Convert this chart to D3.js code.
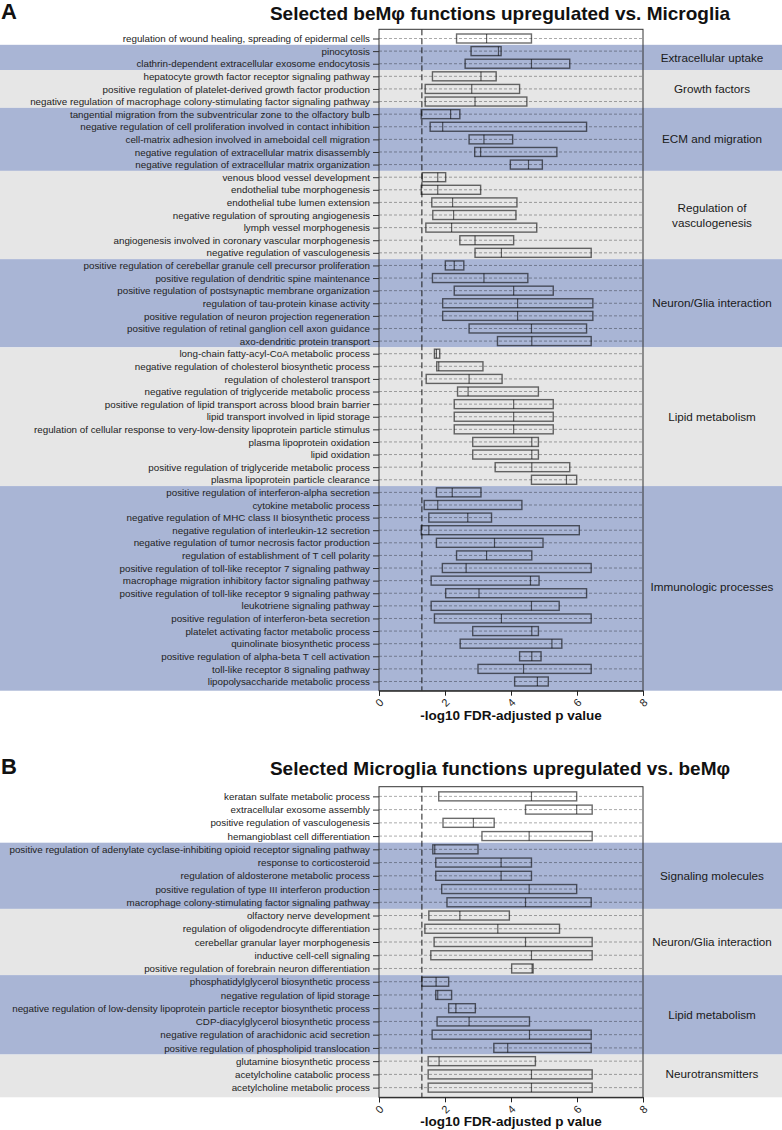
<!DOCTYPE html>
<html><head><meta charset="utf-8">
<script src="https://cdn.jsdelivr.net/npm/d3@7/dist/d3.min.js"></script>
<style>body{margin:0;background:#fff}svg{display:block}</style>
</head><body>
<svg id="c" width="782" height="1130"></svg>
<script>
// ---------- Panel A data ----------
const aTerms = [
"regulation of wound healing, spreading of epidermal cells",
"pinocytosis",
"clathrin-dependent extracellular exosome endocytosis",
"hepatocyte growth factor receptor signaling pathway",
"positive regulation of platelet-derived growth factor production",
"negative regulation of macrophage colony-stimulating factor signaling pathway",
"tangential migration from the subventricular zone to the olfactory bulb",
"negative regulation of cell proliferation involved in contact inhibition",
"cell-matrix adhesion involved in ameboidal cell migration",
"negative regulation of extracellular matrix disassembly",
"negative regulation of extracellular matrix organization",
"venous blood vessel development",
"endothelial tube morphogenesis",
"endothelial tube lumen extension",
"negative regulation of sprouting angiogenesis",
"lymph vessel morphogenesis",
"angiogenesis involved in coronary vascular morphogenesis",
"negative regulation of vasculogenesis",
"positive regulation of cerebellar granule cell precursor proliferation",
"positive regulation of dendritic spine maintenance",
"positive regulation of postsynaptic membrane organization",
"regulation of tau-protein kinase activity",
"positive regulation of neuron projection regeneration",
"positive regulation of retinal ganglion cell axon guidance",
"axo-dendritic protein transport",
"long-chain fatty-acyl-CoA metabolic process",
"negative regulation of cholesterol biosynthetic process",
"regulation of cholesterol transport",
"negative regulation of triglyceride metabolic process",
"positive regulation of lipid transport across blood brain barrier",
"lipid transport involved in lipid storage",
"regulation of cellular response to very-low-density lipoprotein particle stimulus",
"plasma lipoprotein oxidation",
"lipid oxidation",
"positive regulation of triglyceride metabolic process",
"plasma lipoprotein particle clearance",
"positive regulation of interferon-alpha secretion",
"cytokine metabolic process",
"negative regulation of MHC class II biosynthetic process",
"negative regulation of interleukin-12 secretion",
"negative regulation of tumor necrosis factor production",
"regulation of establishment of T cell polarity",
"positive regulation of toll-like receptor 7 signaling pathway",
"macrophage migration inhibitory factor signaling pathway",
"positive regulation of toll-like receptor 9 signaling pathway",
"leukotriene signaling pathway",
"positive regulation of interferon-beta secretion",
"platelet activating factor metabolic process",
"quinolinate biosynthetic process",
"positive regulation of alpha-beta T cell activation",
"toll-like receptor 8 signaling pathway",
"lipopolysaccharide metabolic process"
];
const aLow  = [2.35,2.79,2.61,1.62,1.40,1.40,1.28,1.55,2.73,2.90,3.98,1.31,1.28,1.60,1.63,1.42,2.45,2.91,2.01,1.62,2.28,1.93,1.93,2.73,3.59,1.68,1.75,1.43,2.38,2.28,2.28,2.28,2.84,2.84,3.52,4.62,1.74,1.37,1.51,1.28,1.74,2.35,1.92,1.58,2.02,1.58,1.68,2.84,2.46,4.26,3.00,4.11];
const aMed  = [3.26,3.62,4.62,3.09,2.81,2.91,2.17,1.93,3.18,3.08,4.53,1.78,1.78,2.23,2.26,2.20,2.91,3.71,2.28,3.18,4.08,4.20,4.20,4.62,4.63,1.74,1.81,2.73,2.70,4.08,4.08,4.08,4.63,4.63,4.63,5.68,2.22,1.78,2.69,1.51,3.50,3.26,2.64,4.59,3.03,4.62,3.71,4.63,5.24,4.63,4.38,4.80];
const aHigh = [4.62,3.70,5.78,3.55,4.26,4.48,2.45,6.29,4.05,5.39,4.95,2.02,3.08,4.18,4.15,4.78,4.08,6.43,2.57,4.51,5.28,6.48,6.48,6.29,6.43,1.84,3.15,3.73,4.83,5.28,5.28,5.28,4.83,4.83,5.78,5.99,3.09,4.33,3.41,6.07,4.97,4.63,6.43,4.85,6.29,5.46,6.43,4.83,5.54,4.91,6.43,5.13];
const aGroupNames = ["", "Extracellular uptake", "Growth factors", "ECM and migration", "Regulation of\nvasculogenesis", "Neuron/Glia interaction", "Lipid metabolism", "Immunologic processes"];
const aGroupSizes = [1, 2, 3, 5, 7, 7, 11, 16];

// ---------- Panel B data ----------
const bTerms = [
"keratan sulfate metabolic process",
"extracellular exosome assembly",
"positive regulation of vasculogenesis",
"hemangioblast cell differentiation",
"positive regulation of adenylate cyclase-inhibiting opioid receptor signaling pathway",
"response to corticosteroid",
"regulation of aldosterone metabolic process",
"positive regulation of type III interferon production",
"macrophage colony-stimulating factor signaling pathway",
"olfactory nerve development",
"regulation of oligodendrocyte differentiation",
"cerebellar granular layer morphogenesis",
"inductive cell-cell signaling",
"positive regulation of forebrain neuron differentiation",
"phosphatidylglycerol biosynthetic process",
"negative regulation of lipid storage",
"negative regulation of low-density lipoprotein particle receptor biosynthetic process",
"CDP-diacylglycerol biosynthetic process",
"negative regulation of arachidonic acid secretion",
"positive regulation of phospholipid translocation",
"glutamine biosynthetic process",
"acetylcholine catabolic process",
"acetylcholine metabolic process"
];
const bLow  = [1.81,4.44,1.94,3.12,1.63,1.72,1.72,1.90,2.06,1.51,1.39,1.67,1.57,4.02,1.30,1.72,2.11,1.76,1.61,3.48,1.49,1.49,1.49];
const bMed  = [4.62,5.99,2.86,4.55,1.69,3.70,3.70,4.55,4.44,2.45,3.60,4.44,4.62,4.64,1.73,1.78,2.33,2.73,4.56,3.90,1.82,4.62,4.62];
const bHigh = [5.99,6.46,3.49,6.46,3.00,4.62,4.62,5.99,6.43,3.95,5.47,6.46,6.46,4.67,2.11,2.20,2.92,4.56,6.43,6.43,4.74,6.46,6.46];
const bGroupNames = ["", "Signaling molecules", "Neuron/Glia interaction", "Lipid metabolism", "Neurotransmitters"];
const bGroupSizes = [4, 5, 5, 6, 3];

const xTicks = [0, 2, 4, 6, 8];
const threshold = 1.3;

// ---------- drawing ----------
const W = 782;
const svg = d3.select("#c");
const FONT = "'Liberation Sans', Arial, Helvetica, sans-serif";
const BLUE = "#a9b5d5", GRAY = "#e6e6e6";
const X0 = 379, X1 = 643, LABX = 712;

function panel(o) {
  const n = o.terms.length;
  const g = svg.append("g");
  const x = d3.scaleLinear().domain([0, 8]).range([X0, X1]);
  const y = d3.scalePoint().domain(d3.range(n)).range([o.top, o.bottom]).padding(0.73);
  const step = y.step();

  // group bands
  let start = 0, k = 0;
  o.groupNames.forEach((name, gi) => {
    const size = o.groupSizes[gi];
    const end = start + size - 1;
    if (name !== "") {
      const y0 = start === 0 ? o.top : y(start) - step / 2;
      const y1 = end === n - 1 ? o.bottom : y(end) + step / 2;
      g.append("rect").attr("x", 0).attr("width", W).attr("y", y0).attr("height", y1 - y0)
        .attr("fill", k % 2 === 0 ? BLUE : GRAY);
      const lines = name.split("\n");
      const cy = (y(start) + y(end)) / 2;
      const lh = 15;
      lines.forEach((ln, li) => {
        g.append("text").attr("x", LABX).attr("y", cy + (li - (lines.length - 1) / 2) * lh)
          .attr("dy", "0.35em").attr("text-anchor", "middle")
          .attr("font-family", FONT).attr("font-size", 11.7).attr("fill", "#1a1a1a").text(ln);
      });
      k++;
    }
    start = end + 1;
  });

  // grid lines
  g.append("g").selectAll("line").data(d3.range(n)).join("line")
    .attr("x1", X0).attr("x2", X1).attr("y1", i => y(i)).attr("y2", i => y(i))
    .attr("stroke", "rgba(0,0,0,0.42)").attr("stroke-width", 0.8).attr("stroke-dasharray", "3,2");

  // threshold line
  g.append("line").attr("x1", x(threshold)).attr("x2", x(threshold)).attr("y1", o.top).attr("y2", o.bottom)
    .attr("stroke", "#1a1a1a").attr("stroke-width", 1).attr("stroke-dasharray", "6,3");

  // boxes
  const bh = 9;
  const bg = g.append("g");
  bg.selectAll("rect").data(d3.range(n)).join("rect")
    .attr("x", i => x(o.low[i])).attr("width", i => x(o.high[i]) - x(o.low[i]))
    .attr("y", i => y(i) - bh / 2).attr("height", bh)
    .attr("fill", "none").attr("stroke", "rgba(0,0,0,0.58)").attr("stroke-width", 1.4);
  bg.selectAll("line").data(d3.range(n)).join("line")
    .attr("x1", i => x(o.med[i])).attr("x2", i => x(o.med[i]))
    .attr("y1", i => y(i) - bh / 2).attr("y2", i => y(i) + bh / 2)
    .attr("stroke", "rgba(0,0,0,0.58)").attr("stroke-width", 1.2);

  // frame
  g.append("rect").attr("x", X0).attr("y", o.top).attr("width", X1 - X0).attr("height", o.bottom - o.top)
    .attr("fill", "none").attr("stroke", "#333").attr("stroke-width", 1);

  // left axis
  const la = g.append("g").attr("transform", `translate(${X0},0)`)
    .call(d3.axisLeft(y).tickSize(6).tickPadding(3).tickFormat(i => o.terms[i]));
  la.select(".domain").remove();
  la.selectAll(".tick line").attr("stroke", "#333");
  la.selectAll(".tick text").attr("font-family", FONT).attr("font-size", 9.8).attr("fill", "#222");

  // bottom axis
  const ba = g.append("g").attr("transform", `translate(0,${o.bottom})`)
    .call(d3.axisBottom(x).tickValues(xTicks).tickSize(5).tickFormat(d3.format("d")));
  ba.select(".domain").attr("stroke", "#222");
  ba.selectAll(".tick line").attr("stroke", "#222");
  ba.selectAll(".tick text").attr("font-family", FONT).attr("font-size", 11).attr("fill", "#222")
    .attr("y", 0).attr("dy", "0.35em").attr("text-anchor", "middle")
    .attr("transform", "translate(0,12) rotate(-45)");

  g.append("text").attr("x", (X0 + X1) / 2).attr("y", o.bottom + 29).attr("text-anchor", "middle")
    .attr("font-family", FONT).attr("font-weight", "bold").attr("font-size", 13.5).attr("fill", "#111")
    .text("-log10 FDR-adjusted p value");

  // title and letter
  g.append("text").attr("x", 500).attr("y", o.titleY).attr("text-anchor", "middle")
    .attr("font-family", FONT).attr("font-weight", "bold").attr("font-size", 19).attr("fill", "#111")
    .text(o.title);
  g.append("text").attr("x", 1).attr("y", o.titleY - 1)
    .attr("font-family", FONT).attr("font-weight", "bold").attr("font-size", 22).attr("fill", "#111")
    .text(o.letter);
}

panel({terms: aTerms, low: aLow, med: aMed, high: aHigh, groupNames: aGroupNames, groupSizes: aGroupSizes,
  top: 29.3, bottom: 690.7, title: "Selected beMφ functions upregulated vs. Microglia", titleY: 20, letter: "A"});
panel({terms: bTerms, low: bLow, med: bMed, high: bHigh, groupNames: bGroupNames, groupSizes: bGroupSizes,
  top: 786.7, bottom: 1097.3, title: "Selected Microglia functions upregulated vs. beMφ", titleY: 775, letter: "B"});
</script>
</body></html>
